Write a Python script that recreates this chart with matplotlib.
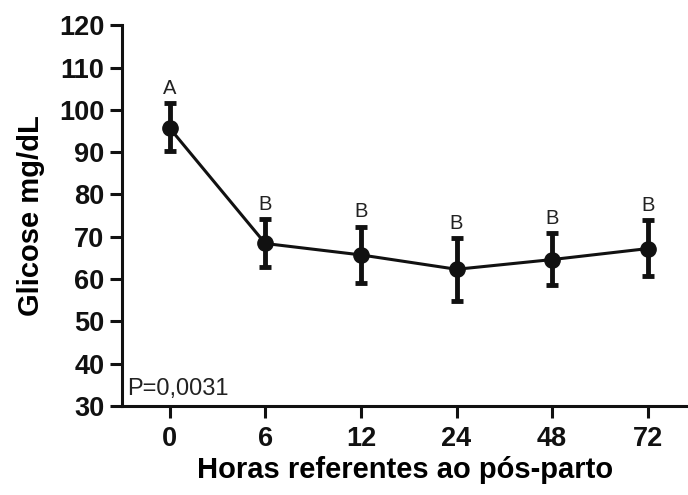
import matplotlib.pyplot as plt

plt.rcParams['font.family'] = ['Liberation Sans', 'DejaVu Sans']

horas = ['0', '6', '12', '24', '48', '72']
glicose = [95.7, 68.4, 65.7, 62.3, 64.6, 67.2]
sup = [101.6, 74.1, 72.4, 69.6, 70.8, 73.9]
inf = [90.3, 62.9, 59.1, 54.9, 58.6, 60.7]
letras = ['A', 'B', 'B', 'B', 'B', 'B']

x = list(range(len(horas)))
err_inf = [g - i for g, i in zip(glicose, inf)]
err_sup = [s - g for s, g in zip(sup, glicose)]

fig = plt.figure(figsize=(6.88, 4.95), dpi=100)
ax = fig.add_axes([0.177, 0.18, 0.823, 0.769])

ax.errorbar(x, glicose, yerr=[err_inf, err_sup], color='#111111', lw=2.2,
            marker='o', ms=11, elinewidth=3.5, capsize=4.5, capthick=3.5)

for xi, s, l in zip(x, sup, letras):
    ax.text(xi, s + 1.2, l, ha='center', va='bottom', fontsize=14.5, color='#222222')

ax.text(0.01, 0.015, 'P=0,0031', transform=ax.transAxes, fontsize=17,
        ha='left', va='bottom', color='#222222')

ax.set_ylim(30, 120)
ax.set_yticks(range(30, 121, 10))
ax.set_xlim(-0.5, 5.42)
ax.set_xticks(x)
ax.set_xticklabels(horas)

for s in ['top', 'right']:
    ax.spines[s].set_visible(False)
for s in ['left', 'bottom']:
    ax.spines[s].set_linewidth(2.2)
    ax.spines[s].set_color('#111111')

ax.tick_params(axis='both', width=2.2, length=8.5, colors='#111111', labelsize=19.5)
ax.tick_params(axis='y', pad=4)
ax.tick_params(axis='x', pad=6)
for lab in ax.get_xticklabels() + ax.get_yticklabels():
    lab.set_fontweight('bold')

ax.set_ylabel('Glicose mg/dL', fontsize=21, fontweight='bold', labelpad=10)
ax.set_xlabel('Horas referentes ao pós-parto', fontsize=21, fontweight='bold', labelpad=3)

fig.savefig('out.png', dpi=100)
